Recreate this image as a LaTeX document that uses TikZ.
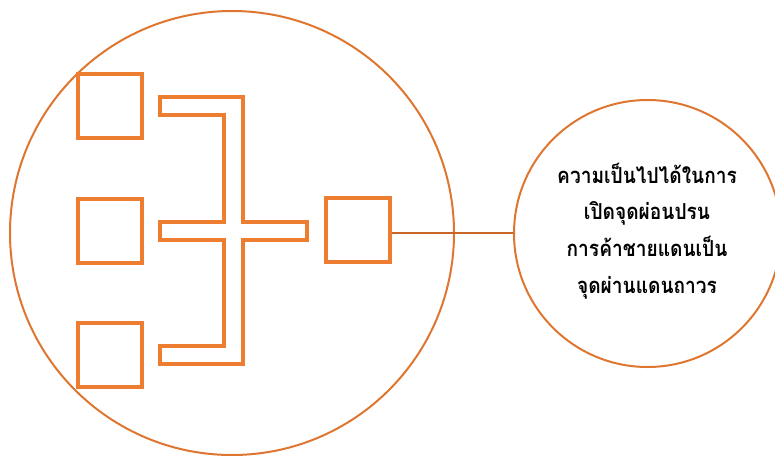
\documentclass[tikz,border=0pt]{standalone}
\usepackage{fontspec}
\newfontfamily\thaifont[Script=Thai,FakeStretch=0.87]{Loma}
\definecolor{shapeorange}{HTML}{ED7D31}
\definecolor{circleorange}{RGB}{222,118,48}
\definecolor{lineorange}{RGB}{200,100,38}
\tikzset{
  sqbox/.style={draw=shapeorange, line width=4pt, minimum size=64pt, inner sep=0pt},
  bigcirc/.style={circle, draw=circleorange, line width=2pt, inner sep=0pt},
  bracketline/.style={draw=shapeorange, line width=4pt, line join=miter},
  link/.style={draw=lineorange, line width=2pt},
  thaitext/.style={align=center, font=\thaifont\bfseries\fontsize{22}{36.7}\selectfont}
}
\begin{document}
\begin{tikzpicture}[x=1pt,y=-1pt]
\useasboundingbox (0,0) rectangle (775,457);
% big circle
\node[bigcirc, minimum size=444pt] (big) at (232,233) {};
% small circle
\node[bigcirc, minimum size=267pt] (small) at (647.5,233.5) {};
% squares
\node[sqbox] (s1) at (109.5,106) {};
\node[sqbox] (s2) at (109.5,230.5) {};
\node[sqbox] (s3) at (109.5,354.5) {};
\node[sqbox] (s4) at (358,230) {};
% bracket outline
\draw[bracketline] (160,97) -- (243,97) -- (243,222) -- (307,222) -- (307,240)
  -- (243,240) -- (243,364) -- (160,364) -- (160,346) -- (224,346) -- (224,240)
  -- (160,240) -- (160,222) -- (224,222) -- (224,115) -- (160,115) -- cycle;
% connector
\coordinate (s4r) at (s4.east |- 0,233);
\draw[link] (s4r) -- (small.west |- s4r);
% text
\node[thaitext] (txt) at (647,231) {ความเป็นไปได้ในการ\\เปิดจุดผ่อนปรน\\การค้าชายแดนเป็น\\จุดผ่านแดนถาวร};
\end{tikzpicture}
\end{document}
